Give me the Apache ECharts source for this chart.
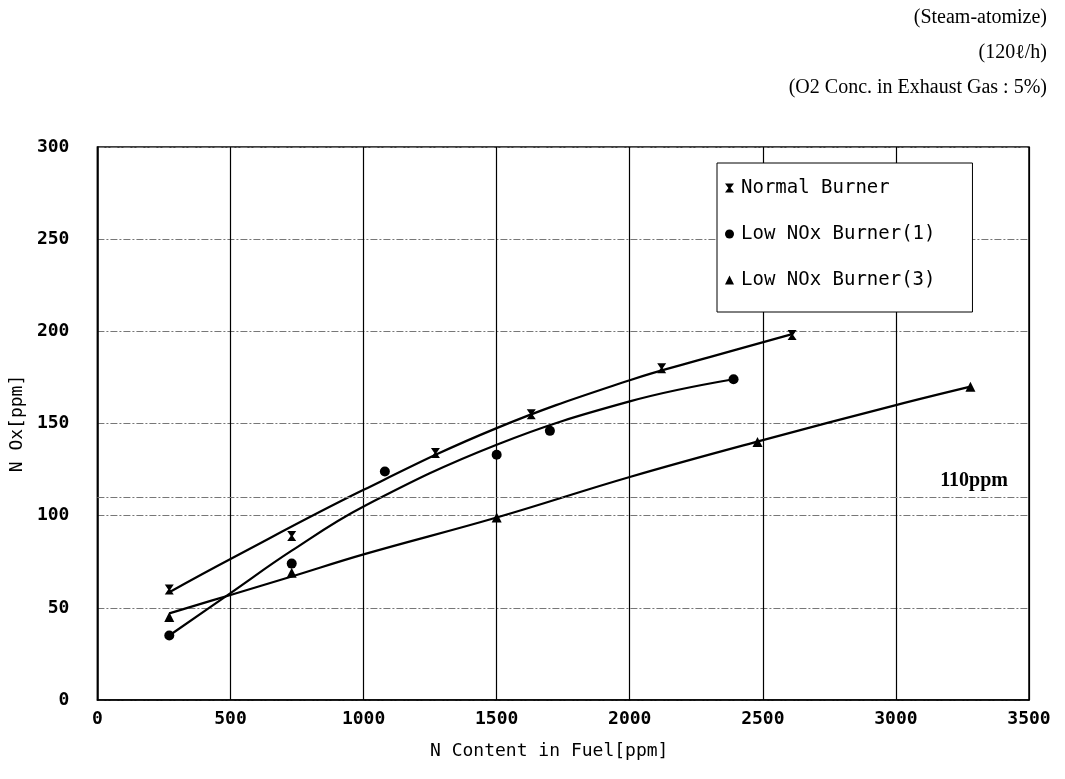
<!DOCTYPE html>
<html>
<head>
<meta charset="utf-8">
<script src="https://cdn.jsdelivr.net/npm/echarts@6/dist/echarts.min.js"></script>
<style>
  html, body { margin: 0; padding: 0; background: #fff; }
  #chart { width: 1065px; height: 779px; }
</style>
</head>
<body>
<div id="chart"></div>
<script>
// Measured points: N content in fuel [ppm] vs NOx [ppm]
const normalX = [270, 730, 1270, 1630, 2120, 2610];
const normalY = [60, 89, 134, 155, 180, 198];
const low1X = [270, 730, 1080, 1500, 1700, 2390];
const low1Y = [35, 74, 124, 133, 146, 174];
const low3X = [270, 730, 1500, 2480, 3280];
const low3Y = [45, 69, 99, 140, 170];

// Fitted trend curves through each burner's data
const normalCurveX = [270, 500, 1000, 1500, 2000, 2300, 2610];
const normalCurveY = [58.5, 76.5, 114, 147.5, 173.5, 186, 198.5];
const low1CurveX = [270, 500, 730, 1000, 1500, 2000, 2390];
const low1CurveY = [35, 58, 81, 105, 138.5, 162, 174];
const low3CurveX = [270, 500, 730, 1000, 1500, 2000, 2500, 3000, 3280];
const low3CurveY = [47, 57, 67, 79, 99, 121, 141, 160, 170];

const limitValue = 110;
const limitLabel = '110ppm';

const xTicks = [0, 3500, 500];
const yTicks = [0, 300, 50];

const seriesNames = ['Normal Burner', 'Low NOx Burner(1)', 'Low NOx Burner(3)'];
const notes = ['(Steam-atomize)', '(120\u2113/h)', '(O2 Conc. in Exhaust Gas : 5%)'];

const pair = (xs, ys) => xs.map((x, i) => [x, ys[i]]);

const monoFont = "'DejaVu Sans Mono', monospace";
const serifFont = "'Liberation Serif', 'DejaVu Serif', serif";
const hourglass = 'path://M0,0 L10,0 L6.2,5 L10,10 L0,10 L3.8,5 Z';

const curveStyle = { color: '#000', width: 2.2 };
const markStyle = { color: '#000', opacity: 1 };

const chart = echarts.init(document.getElementById('chart'));
chart.setOption({
  backgroundColor: '#fff',
  animation: false,
  title: notes.map((t, i) => ({
    text: t,
    right: 13,
    top: 2 + i * 35,
    textStyle: { fontFamily: serifFont, fontSize: 20, fontWeight: 'normal', color: '#000', lineHeight: 22 }
  })),
  grid: {
    left: 95, right: 36, top: 147, bottom: 79,
    show: true, borderColor: '#000', borderWidth: 1.5
  },
  legend: {
    data: seriesNames,
    orient: 'vertical',
    left: 717,
    top: 163,
    padding: [15, 37, 22, 8],
    itemGap: 26,
    itemWidth: 9,
    itemHeight: 9,
    borderColor: '#000',
    borderWidth: 1,
    backgroundColor: '#fff',
    textStyle: { fontFamily: monoFont, fontSize: 19, color: '#000', lineHeight: 20, padding: [0, 0, 0, 2] }
  },
  xAxis: {
    type: 'value',
    min: xTicks[0], max: xTicks[1], interval: xTicks[2],
    name: 'N Content in Fuel[ppm]',
    nameLocation: 'middle',
    nameGap: 42,
    nameTextStyle: { fontFamily: monoFont, fontSize: 18, color: '#000', padding: [0, 28, 0, 0] },
    axisLine: { show: true, lineStyle: { color: '#000', width: 1.5 } },
    axisTick: { show: false },
    axisLabel: {
      fontFamily: monoFont, fontSize: 18, fontWeight: 'bold', color: '#000', margin: 10,
      formatter: v => String(v)
    },
    splitLine: { show: true, lineStyle: { color: '#000', width: 1.2, type: 'solid' } }
  },
  yAxis: {
    type: 'value',
    min: yTicks[0], max: yTicks[1], interval: yTicks[2],
    name: 'N Ox[ppm]',
    nameLocation: 'middle',
    nameGap: 58,
    nameRotate: 90,
    nameTextStyle: { fontFamily: monoFont, fontSize: 18, color: '#000' },
    axisLine: { show: true, lineStyle: { color: '#000', width: 1.5 } },
    axisTick: { show: false },
    axisLabel: {
      fontFamily: monoFont, fontSize: 18, fontWeight: 'bold', color: '#000', margin: 28,
      formatter: v => String(v)
    },
    splitLine: { show: true, lineStyle: { color: '#777', width: 1, type: [7, 2, 2, 2] } }
  },
  series: [
    {
      name: 'normal-fit', type: 'line', smooth: 0.4, showSymbol: false, silent: true,
      data: pair(normalCurveX, normalCurveY), lineStyle: curveStyle, z: 3,
      markLine: {
        silent: true,
        symbol: 'none',
        data: [{ yAxis: limitValue }],
        lineStyle: { color: '#777', width: 1, type: [7, 2, 2, 2] },
        label: {
          show: true,
          position: 'insideEndTop',
          distance: [21, 6],
          formatter: limitLabel,
          fontFamily: serifFont, fontSize: 20, fontWeight: 'bold', color: '#000'
        }
      }
    },
    {
      name: 'low1-fit', type: 'line', smooth: 0.4, showSymbol: false, silent: true,
      data: pair(low1CurveX, low1CurveY), lineStyle: curveStyle, z: 3
    },
    {
      name: 'low3-fit', type: 'line', smooth: 0.4, showSymbol: false, silent: true,
      data: pair(low3CurveX, low3CurveY), lineStyle: curveStyle, z: 3
    },
    {
      name: seriesNames[0], type: 'scatter', symbol: hourglass, symbolSize: [9, 10],
      data: pair(normalX, normalY), itemStyle: markStyle, z: 4
    },
    {
      name: seriesNames[1], type: 'scatter', symbol: 'circle', symbolSize: 10,
      data: pair(low1X, low1Y), itemStyle: markStyle, z: 4
    },
    {
      name: seriesNames[2], type: 'scatter', symbol: 'triangle', symbolSize: 10,
      data: pair(low3X, low3Y), itemStyle: markStyle, z: 4
    }
  ]
});
</script>
</body>
</html>
